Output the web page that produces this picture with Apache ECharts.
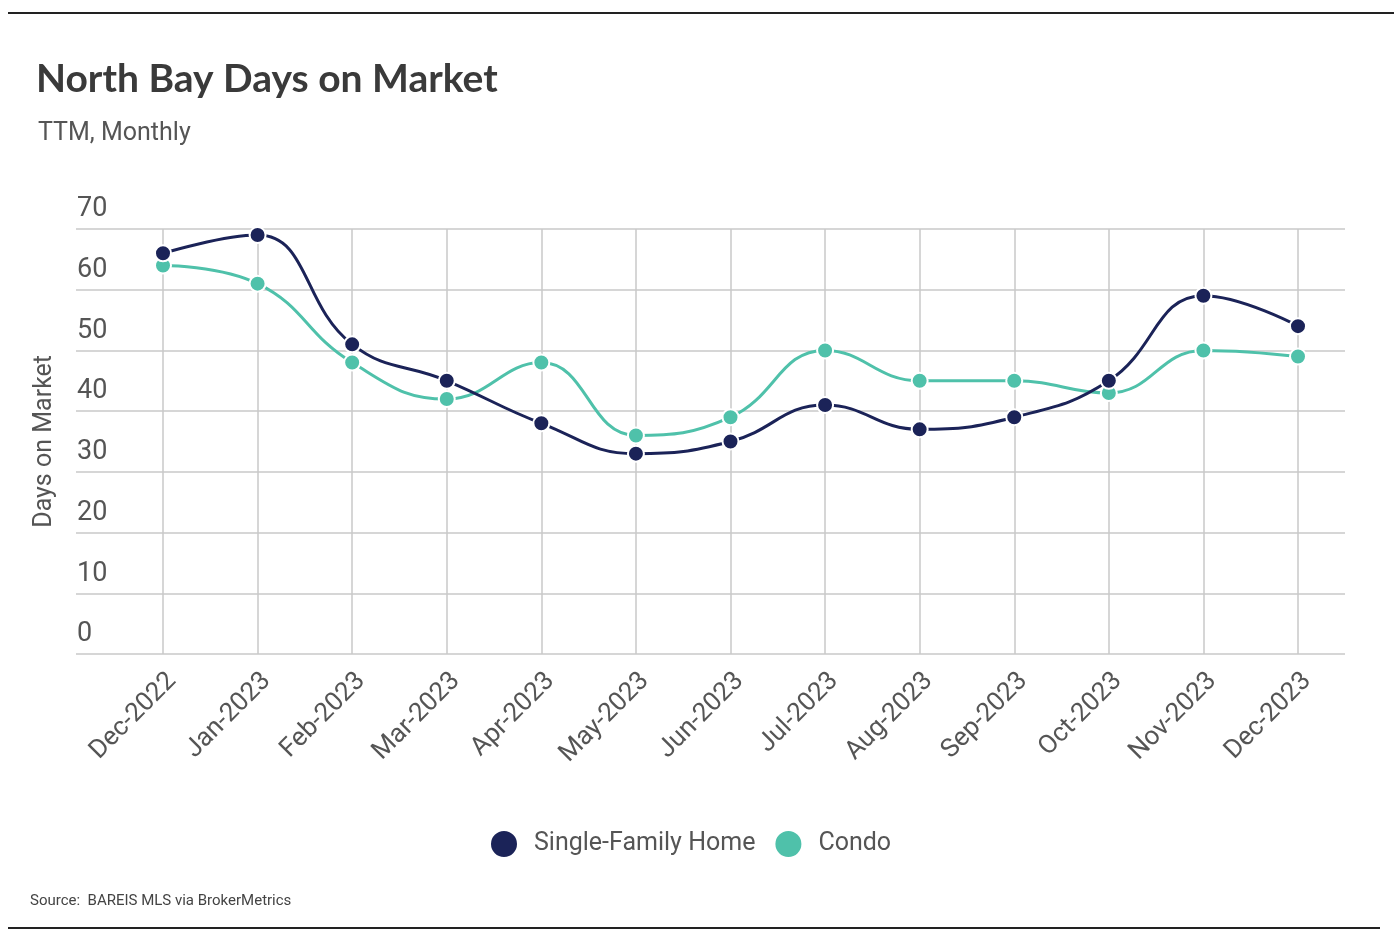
<!DOCTYPE html>
<html><head><meta charset="utf-8">
<script src="https://cdn.jsdelivr.net/npm/echarts@6/dist/echarts.min.js"></script>
<style>html,body{margin:0;padding:0;background:#fff;}#c{width:1394px;height:942px;}</style>
</head><body><div id="c"></div>
<script>
const categories = ['Dec-2022','Jan-2023','Feb-2023','Mar-2023','Apr-2023','May-2023','Jun-2023','Jul-2023','Aug-2023','Sep-2023','Oct-2023','Nov-2023','Dec-2023'];
const singleFamily = [66, 69, 51, 45, 38, 33, 35, 41, 37, 39, 45, 59, 54];
const condo = [64, 61, 48, 42, 48, 36, 39, 50, 45, 45, 43, 50, 49];
const yTicks = [0, 10, 20, 30, 40, 50, 60, 70];

const NARROW = "Roboto, sans-serif";
const chart = echarts.init(document.getElementById('c'));
const common = {
  type: 'line', smooth: 0.45, symbol: 'circle', symbolSize: 16,
  xAxisIndex: 1, yAxisIndex: 1, lineStyle: { width: 3 },
  itemStyle: { borderColor: '#fff', borderWidth: 2 }
};
chart.setOption({
  backgroundColor: '#fff',
  animation: false,
  title: [
    { text: 'North Bay Days on Market', left: 31, top: 55,
      textStyle: { fontFamily: 'Lato, sans-serif', fontWeight: 'bold', fontSize: 39, color: '#3a3a3a' } },
    { text: 'TTM, Monthly', left: 33, top: 116,
      textStyle: { fontFamily: NARROW, fontWeight: 'normal', fontSize: 25, color: '#555' } },
    { text: 'Source:  BAREIS MLS via BrokerMetrics', left: 25, top: 889,
      textStyle: { fontFamily: NARROW, fontWeight: 'normal', fontSize: 15, color: '#444' } }
  ],
  legend: {
    data: ['Single-Family Home', 'Condo'], top: 824, left: 484,
    icon: 'circle', itemWidth: 28, itemHeight: 28, itemGap: 18,
    textStyle: { fontFamily: NARROW, fontSize: 25, color: '#555', padding: [0, 0, 0, 11] }
  },
  graphic: [
    { type: 'line', shape: { x1: 8, y1: 13, x2: 1394, y2: 13 }, style: { stroke: '#222', lineWidth: 2 } },
    { type: 'line', shape: { x1: 8, y1: 928, x2: 1380, y2: 928 }, style: { stroke: '#222', lineWidth: 2 } },
    { type: 'text', left: 32, top: 355, rotation: Math.PI / 2,
      style: { text: 'Days on Market', font: "25px " + NARROW, fill: '#555' } }
  ],
  grid: [
    { left: 76, right: 49, top: 229, bottom: 288 },
    { left: 163, right: 96, top: 229, bottom: 288 }
  ],
  xAxis: [
    { gridIndex: 0, type: 'category', data: categories, show: false },
    { gridIndex: 1, type: 'category', data: categories, boundaryGap: false,
      axisLine: { show: false }, axisTick: { show: false },
      splitLine: { show: true, lineStyle: { color: '#c8c8c8', width: 1.5 } },
      axisLabel: { rotate: 45, margin: 14, interval: 0, verticalAlign: 'top',
        fontFamily: NARROW, fontSize: 26, color: '#555' } }
  ],
  yAxis: [
    { gridIndex: 0, type: 'value', min: yTicks[0], max: yTicks[yTicks.length - 1], interval: 10,
      axisLine: { show: false }, axisTick: { show: false },
      splitLine: { lineStyle: { color: '#c8c8c8', width: 1.5 } },
      axisLabel: { align: 'left', verticalAlign: 'bottom', margin: -1, padding: [0, 0, 6, 0],
        fontFamily: NARROW, fontSize: 27, color: '#555' } },
    { gridIndex: 1, type: 'value', min: yTicks[0], max: yTicks[yTicks.length - 1], interval: 10, show: false,
      splitLine: { show: false } }
  ],
  series: [
    Object.assign({}, common, { name: 'Single-Family Home', data: singleFamily, color: '#1b2358', z: 3 }),
    Object.assign({}, common, { name: 'Condo', data: condo, color: '#4fc1aa', z: 2 })
  ]
});
</script></body></html>
